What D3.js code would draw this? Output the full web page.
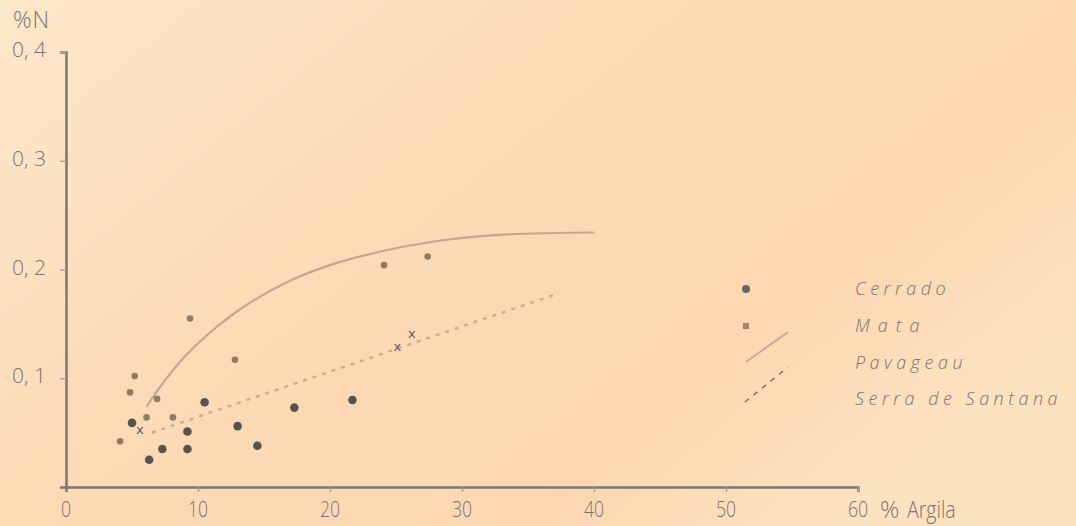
<!DOCTYPE html>
<html>
<head>
<meta charset="utf-8">
<script src="https://cdn.jsdelivr.net/npm/d3@7"></script>
<style>
  body { margin: 0; background: #fcdcb8; }
  svg { display: block; }
  .lbl { font-family: "Open Sans", "DejaVu Sans", sans-serif; font-weight: 300; fill: #7a7272; }
</style>
</head>
<body>
<div id="chart"></div>
<script>
// values: [% argila, % N]
var cerrado = [[5.0, 0.059], [6.3, 0.025], [7.3, 0.035], [9.2, 0.051], [9.2, 0.035],
               [10.5, 0.078], [13.0, 0.056], [14.5, 0.038], [17.3, 0.073], [21.7, 0.080]];
var mata = [[4.1, 0.042], [4.85, 0.087], [5.2, 0.102], [6.1, 0.064], [6.9, 0.081],
            [8.1, 0.064], [9.4, 0.155], [12.8, 0.117], [24.1, 0.204], [27.4, 0.212]];
var serraPts = [[5.6, 0.052], [25.1, 0.129], [26.2, 0.141]];
var pavageau = [[6.1, 0.074], [7.5, 0.098], [9, 0.12], [11, 0.143], [13.5, 0.166],
                [16.5, 0.187], [20, 0.204], [24, 0.217], [28, 0.226], [33, 0.232], [40, 0.234]];
var serraLine = [[6.5, 0.05], [37.3, 0.178]];
var xTicks = [0, 10, 20, 30, 40, 50, 60];
var yTicks = [0.1, 0.2, 0.3, 0.4];
var legendNames = ["Cerrado", "Mata", "Pavageau", "Serra de Santana"];

var width = 1076, height = 526;
var svg = d3.select("#chart").append("svg").attr("width", width).attr("height", height);

var defs = svg.append("defs");
var grad = defs.append("linearGradient").attr("id", "bg")
  .attr("x1", "0").attr("y1", "0").attr("x2", "1").attr("y2", "0.6");
grad.append("stop").attr("offset", "0").attr("stop-color", "#fce8ca");
grad.append("stop").attr("offset", "0.45").attr("stop-color", "#fcdab6");
grad.append("stop").attr("offset", "0.8").attr("stop-color", "#fcd7b2");
grad.append("stop").attr("offset", "1").attr("stop-color", "#fde2bf");
svg.append("rect").attr("width", width).attr("height", height).attr("fill", "url(#bg)");

var x = d3.scaleLinear().domain([0, 60]).range([66, 858]);
var y = d3.scaleLinear().domain([0, 0.4]).range([487, 52]);
var axisColor = "#7c7777";

// axes
var xAxis = svg.append("g").attr("transform", "translate(0,487)")
  .call(d3.axisBottom(x).tickValues(xTicks.slice(1)).tickSize(5).tickFormat(""));
xAxis.select(".domain").attr("stroke", axisColor).attr("stroke-width", 2.5);
xAxis.selectAll(".tick line").attr("stroke", "#a89c96").attr("stroke-width", 1.5);

var yAxis = svg.append("g").attr("transform", "translate(66,0)")
  .call(d3.axisLeft(y).tickValues(yTicks).tickSize(6).tickFormat(""));
yAxis.select(".domain").attr("stroke", axisColor).attr("stroke-width", 2.5);
yAxis.selectAll(".tick line").attr("stroke", "#b0a49c").attr("stroke-width", 1.5);

svg.selectAll(".xl").data(xTicks).enter().append("text")
  .attr("class", "lbl")
  .attr("transform", function(d) { return "translate(" + x(d) + ",517) scale(0.8,1)"; })
  .attr("text-anchor", "middle")
  .style("font-size", "22px")
  .text(function(d) { return d; });

svg.selectAll(".yl").data(yTicks).enter().append("text")
  .attr("class", "lbl")
  .attr("x", 12)
  .attr("y", function(d) { return y(d) + 5; })
  .style("font-size", "21px")
  .text(function(d) { return d3.format(".1f")(d).replace(".", ", "); });

svg.append("text").attr("class", "lbl").attr("x", 13).attr("y", 28)
  .style("font-size", "23px").style("letter-spacing", "1px").text("%N");
svg.append("text").attr("class", "lbl").attr("x", 880).attr("y", 518)
  .style("font-size", "24px").text("%");
svg.append("text").attr("class", "lbl")
  .attr("transform", "translate(907,518) scale(0.85,1)")
  .style("font-size", "23px").text("Argila");

// curves
var line = d3.line().x(function(d) { return x(d[0]); }).y(function(d) { return y(d[1]); });
svg.append("path").datum(pavageau)
  .attr("d", line.curve(d3.curveCatmullRom))
  .attr("fill", "none").attr("stroke", "#cba394").attr("stroke-width", 2.2);

svg.append("path").datum(serraLine)
  .attr("d", d3.line().x(function(d) { return x(d[0]); }).y(function(d) { return y(d[1]); }))
  .attr("fill", "none").attr("stroke", "#d4a98e").attr("stroke-width", 2.4)
  .attr("stroke-dasharray", "4,6");

// points
svg.selectAll(".mata").data(mata).enter().append("circle")
  .attr("cx", function(d) { return x(d[0]); })
  .attr("cy", function(d) { return y(d[1]); })
  .attr("r", 3.3).attr("fill", "#7d6a58").attr("opacity", 0.85);

svg.selectAll(".cerrado").data(cerrado).enter().append("circle")
  .attr("cx", function(d) { return x(d[0]); })
  .attr("cy", function(d) { return y(d[1]); })
  .attr("r", 4.3).attr("fill", "#57524e");

svg.selectAll(".serra").data(serraPts).enter().append("text")
  .attr("x", function(d) { return x(d[0]); })
  .attr("y", function(d) { return y(d[1]) + 4; })
  .attr("text-anchor", "middle")
  .style("font-family", "DejaVu Sans, sans-serif")
  .style("font-size", "13px")
  .attr("fill", "#5e5a5a")
  .text("x");

// legend
var legY = [289, 326, 363, 399];
svg.append("circle").attr("cx", 746).attr("cy", legY[0]).attr("r", 4).attr("fill", "#666");
svg.append("rect").attr("x", 743).attr("y", legY[1] - 3).attr("width", 6).attr("height", 6)
  .attr("fill", "#8c6e58").attr("opacity", 0.8);
svg.append("line").attr("x1", 746).attr("y1", 362).attr("x2", 788).attr("y2", 332)
  .attr("stroke", "#d0a894").attr("stroke-width", 2);
svg.append("line").attr("x1", 745).attr("y1", 402).attr("x2", 788).attr("y2", 367)
  .attr("stroke", "#8a6e60").attr("stroke-width", 1.5).attr("stroke-dasharray", "5,6");

svg.selectAll(".leg").data(legendNames).enter().append("text")
  .attr("class", "lbl")
  .attr("x", 855)
  .attr("y", function(d, i) { return legY[i] + 6; })
  .style("font-size", "18px")
  .style("font-style", "italic")
  .style("letter-spacing", function(d, i) { return i === 1 ? "8px" : "4.5px"; })
  .text(function(d) { return d; });
</script>
</body>
</html>
